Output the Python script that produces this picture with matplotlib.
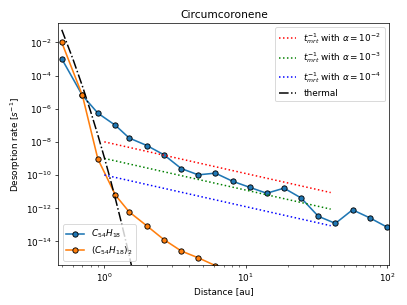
"""
Desorption rate of circumcoronene (monomer and dimer) against heliocentric distance,
compared with the mixing timescale for several alpha values and the thermal rate.

Use: `python plot.py`
"""

import matplotlib.pyplot as plt

# distance grid [au]
distance = [0.5, 0.7, 0.9, 1.2, 1.5, 2.0, 2.64, 3.5, 4.62, 6.11,
            8.08, 10.68, 14.1, 18.7, 24.7, 32.7, 43.2, 57.1, 75.5, 100.0]

# desorption rates [1/s]
rate_monomer = [1.02e-3, 6.3e-6, 5.4e-7, 9.8e-8, 1.7e-8, 6.0e-9, 1.66e-9, 2.45e-10,
                1.02e-10, 1.29e-10, 4.2e-11, 1.8e-11, 7.9e-12, 1.6e-11, 4.1e-12,
                3.2e-13, 1.2e-13, 7.9e-13, 2.6e-13, 7.2e-14]
rate_dimer = [1.0e-2, 6.3e-6, 9.3e-10, 6.0e-12, 5.9e-13, 8.5e-14, 1.26e-14, 2.6e-15,
              1.0e-15, 3.4e-16, 1.3e-16, 5.5e-17, 2.4e-17, 1.1e-17, 5.0e-18,
              2.3e-18, 1.1e-18, 5.2e-19, 2.5e-19, 1.2e-19]

# thermal desorption
thermal_distance = [0.5, 0.6, 0.7, 0.8, 0.9, 1.0, 1.1, 1.2, 1.3, 1.4, 1.5, 1.6]
thermal_rate = [5.8e-2, 9.8e-4, 2.3e-5, 6.9e-7, 2.6e-8, 1.15e-9, 6.0e-11,
                3.5e-12, 2.3e-13, 1.7e-14, 1.4e-15, 1.2e-16]

# inverse mixing timescale for alpha = 1e-2, 1e-3, 1e-4
mrt_distance = [1.0, 40.0]
mrt_alpha_2 = [1.0e-8, 8.7e-12]
mrt_alpha_3 = [1.0e-9, 8.7e-13]
mrt_alpha_4 = [1.0e-10, 8.7e-14]

y_ticks = [1e-14, 1e-12, 1e-10, 1e-8, 1e-6, 1e-4, 1e-2]


def main() -> None:
    fig, ax = plt.subplots(figsize=(6.4, 4.8), dpi=63.6)

    mono, = ax.plot(distance, rate_monomer, "o-", color="C0", mec="k", lw=1.8,
                    label=r"$C_{54}H_{18}$")
    dim, = ax.plot(distance, rate_dimer, "o-", color="C1", mec="k", lw=1.8,
                   label=r"$(C_{54}H_{18})_2$")

    r2, = ax.plot(mrt_distance, mrt_alpha_2, "r:", lw=1.7,
                  label=r"$t_{mrt}^{-1}$ with $\alpha = 10^{-2}$")
    r3, = ax.plot(mrt_distance, mrt_alpha_3, "g:", lw=1.7,
                  label=r"$t_{mrt}^{-1}$ with $\alpha = 10^{-3}$")
    r4, = ax.plot(mrt_distance, mrt_alpha_4, "b:", lw=1.7,
                  label=r"$t_{mrt}^{-1}$ with $\alpha = 10^{-4}$")
    th, = ax.plot(thermal_distance, thermal_rate, "k-.", lw=1.7, label="thermal")

    ax.set_xscale("log")
    ax.set_yscale("log")
    ax.set_xlim(0.474, 104)
    ax.set_ylim(3.7e-16, 0.148)
    ax.set_yticks(y_ticks)
    ax.set_xlabel("Distance [au]")
    ax.set_ylabel(r"Desorption rate [$s^{-1}$]")
    ax.set_title("Circumcoronene")

    leg1 = ax.legend(handles=[r2, r3, r4, th], loc="upper right")
    ax.add_artist(leg1)
    ax.legend(handles=[mono, dim], loc="lower left")

    fig.subplots_adjust(left=0.1437, right=0.9565, top=0.9236, bottom=0.1311)
    fig.savefig("out.png", dpi=63.6)
    plt.close(fig)


if __name__ == "__main__":
    main()
